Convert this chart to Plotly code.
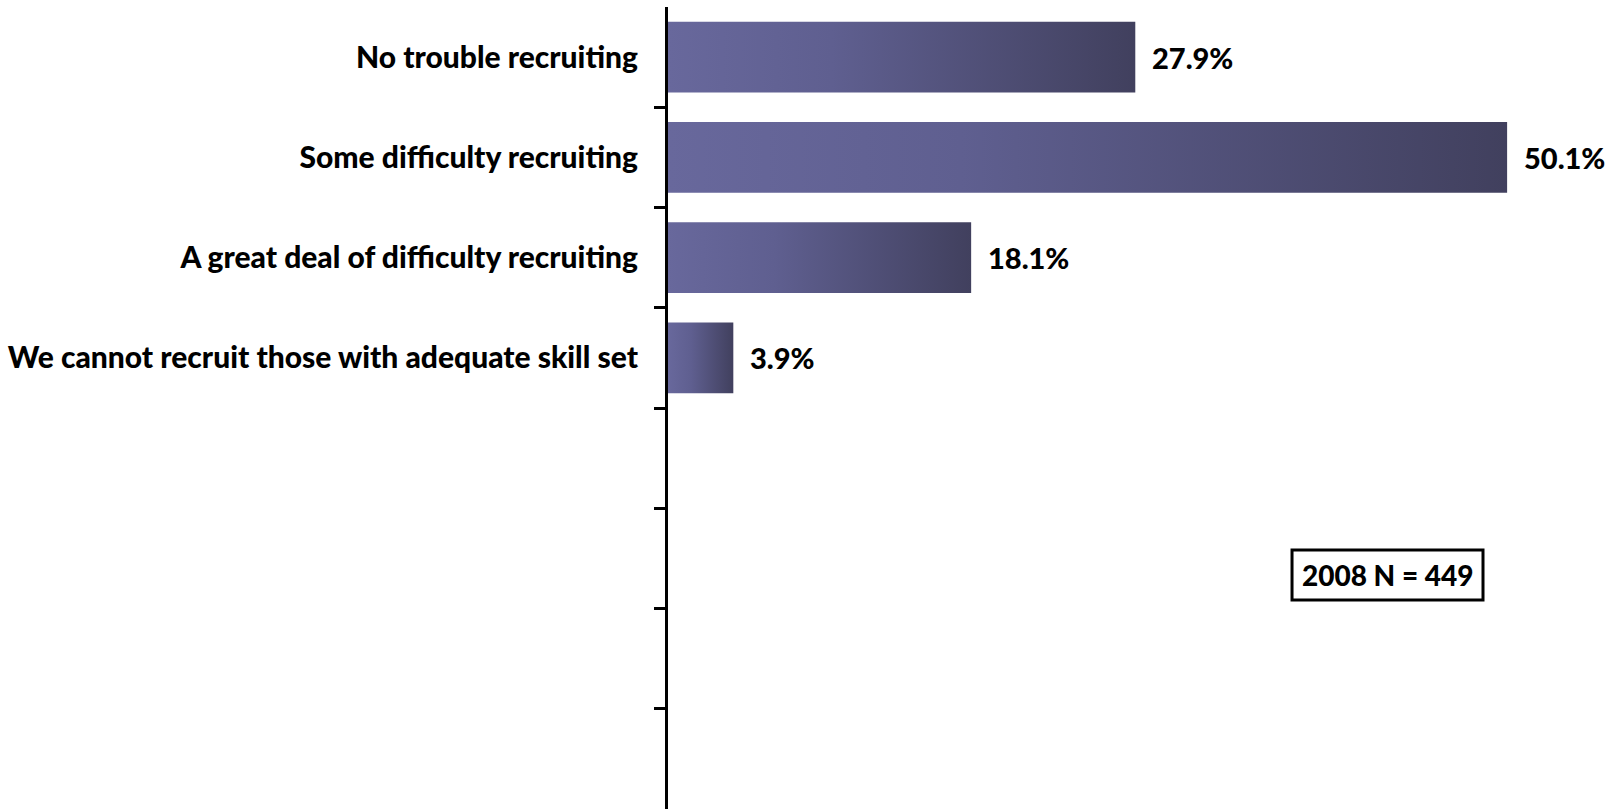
import plotly.graph_objects as go

# Survey responses (share of respondents, %)
categories = [
    "No trouble recruiting",
    "Some difficulty recruiting",
    "A great deal of difficulty recruiting",
    "We cannot recruit those with adequate skill set",
]
values = [27.9, 50.1, 18.1, 3.9]
sample_note = "2008 N = 449"

n_slots = 8          # category slots on the axis (last four left empty)
bar_half = 0.354     # half the bar thickness, in category units
x_max = 56.9

label_font = "Lato"
bar_scale = [[0.0, "#68689C"], [0.35, "#5F5F90"], [1.0, "#41405E"]]

fig = go.Figure()

# Each bar is a filled rectangle so it can carry its own left-to-right gradient
for i, v in enumerate(values):
    fig.add_trace(go.Scatter(
        x=[0, v, v, 0, 0],
        y=[i - bar_half, i - bar_half, i + bar_half, i + bar_half, i - bar_half],
        mode="lines",
        line=dict(width=0),
        fill="toself",
        fillgradient=dict(type="horizontal", colorscale=bar_scale),
        hoverinfo="text",
        text=f"{categories[i]}: {v}%",
        showlegend=False,
    ))

# Value labels just past the end of each bar
for i, v in enumerate(values):
    fig.add_annotation(
        x=v, y=i, xref="x", yref="y",
        text=f"{v}%",
        showarrow=False, xanchor="left", yanchor="middle", xshift=15,
        font=dict(family=label_font, size=29, color="black", weight=900),
    )

# Sample-size note inside a bordered frame
fig.add_shape(
    type="rect", xref="paper", yref="paper",
    x0=0.6548, x1=0.8552, y0=0.2606, y1=0.3229,
    line=dict(color="black", width=3), fillcolor="white",
)
fig.add_annotation(
    x=0.755, y=0.2918, xref="paper", yref="paper",
    text=sample_note,
    showarrow=False, xanchor="center", yanchor="middle",
    font=dict(family=label_font, size=28, color="black", weight=900),
)

fig.update_layout(
    width=1621, height=809,
    margin=dict(l=668, r=0, t=7, b=0),
    paper_bgcolor="white",
    plot_bgcolor="white",
    xaxis=dict(range=[0, x_max], visible=False, showgrid=False, zeroline=False),
    yaxis=dict(
        range=[n_slots - 0.5, -0.5],
        tickmode="array",
        tickvals=list(range(len(categories))),
        ticktext=categories,
        ticks="",
        ticklabelstandoff=21,
        tickfont=dict(family=label_font, size=30, color="black", weight=900),
        showline=True, linecolor="black", linewidth=3,
        showgrid=False, zeroline=False,
        minor=dict(
            tickmode="array",
            tickvals=[k + 0.5 for k in range(n_slots - 1)],
            ticks="outside", ticklen=11, tickwidth=3, tickcolor="black",
            showgrid=False,
        ),
    ),
)

fig.write_html("out.html")
